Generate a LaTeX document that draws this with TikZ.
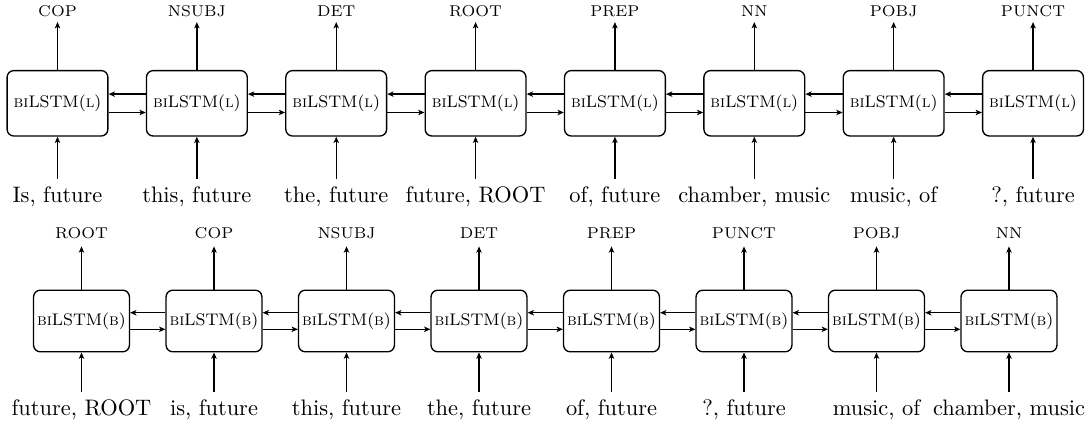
\documentclass[tikz,border=0pt]{standalone}
\usetikzlibrary{arrows.meta}
\begin{document}
\begin{tikzpicture}[x=0.4464pt,y=-0.4464pt,
  cell/.style={draw,rounded corners=3pt,line width=0.6pt,font=\fontsize{7.5}{9}\selectfont,inner sep=0pt},
  toprowcell/.style={cell,minimum width=45pt,minimum height=29.2pt},
  botrowcell/.style={cell,minimum width=42.8pt,minimum height=27.5pt},
  word/.style={anchor=base,text height=7pt,text depth=2pt,inner sep=3pt},
  tag/.style={anchor=base,font=\scriptsize,text height=5pt,text depth=0pt},
  link/.style={-{Stealth[length=2.8pt,width=2.4pt,inset=0.7pt]},line width=0.6pt}]
\useasboundingbox (0,0) rectangle (1085,425);

% forward/backward tagger chain (L)
\foreach \t/\w [count=\i] in {COP/{Is, future},NSUBJ/{this, future},DET/{the, future},ROOT/{future, ROOT},PREP/{of, future},NN/{chamber, music},POBJ/{music, of},PUNCT/{?, future}}{
  \pgfmathsetmacro{\cx}{57.5+139.36*(\i-1)}
  \node[toprowcell] (a\i) at (\cx,103.3) {\textsc{bi}LSTM(\textsc{l})};
  \node[tag,inner sep=2.2pt] (la\i) at (\cx,16.7) {\t};
  \node[word] (wa\i) at (\cx,202) {\w};
  \draw[link] (a\i.north) -- (la\i.south);
  \draw[link] (wa\i.north) -- (a\i.south);
}
\foreach \i [evaluate=\i as \j using int(\i+1)] in {1,...,7}{
  \draw[link] ([yshift=4.1pt]a\j.west) -- ([yshift=4.1pt]a\i.east);
  \draw[link] ([yshift=-4.1pt]a\i.east) -- ([yshift=-4.1pt]a\j.west);
}

% forward/backward tagger chain (B)
\foreach \t/\w [count=\i] in {ROOT/{future, ROOT},COP/{is, future},NSUBJ/{this, future},DET/{the, future},PREP/{of, future},PUNCT/{?, future},POBJ/{music, of},NN/{chamber, music}}{
  \pgfmathsetmacro{\cx}{81.5+132.5*(\i-1)}
  \node[botrowcell] (b\i) at (\cx,321) {\textsc{bi}LSTM(\textsc{b})};
  \node[tag,inner sep=3.4pt] (lb\i) at (\cx,238.3) {\t};
  \node[word] (wb\i) at (\cx,415) {\w};
  \draw[link] (b\i.north) -- (lb\i.south);
  \draw[link] (wb\i.north) -- (b\i.south);
}
\foreach \i [evaluate=\i as \j using int(\i+1)] in {1,...,7}{
  \draw[link] ([yshift=3.7pt]b\j.west) -- ([yshift=3.7pt]b\i.east);
  \draw[link] ([yshift=-3.7pt]b\i.east) -- ([yshift=-3.7pt]b\j.west);
}
\end{tikzpicture}
\end{document}
